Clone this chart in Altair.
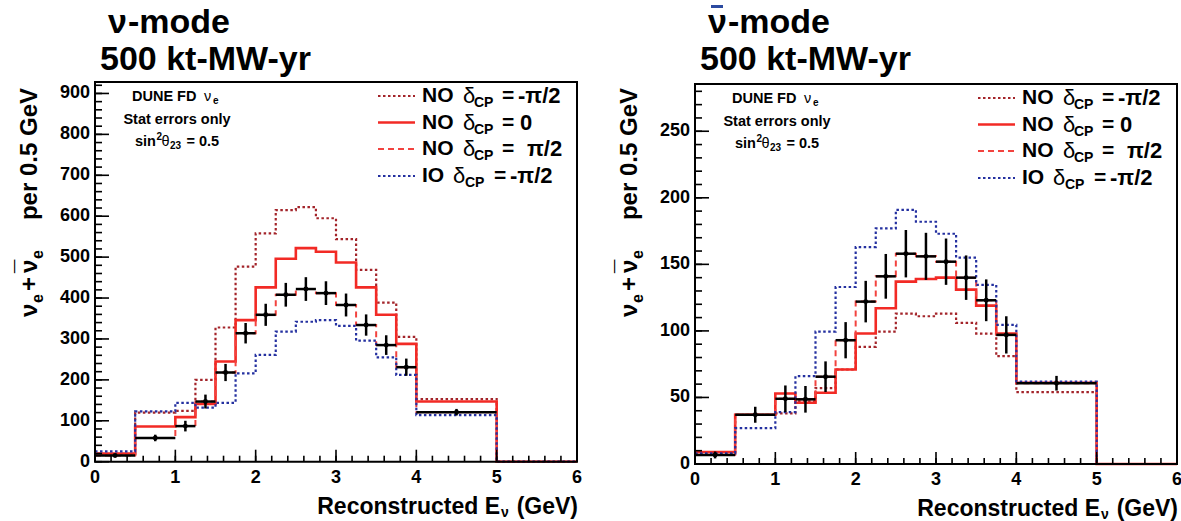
import altair as alt
import pandas as pd

# ---------------- data ----------------
edges = [0.0, 0.5, 1.0, 1.25, 1.5, 1.75, 2.0, 2.25, 2.5, 2.75, 3.0, 3.25, 3.5, 3.75, 4.0, 5.0, 6.0]
centers = [0.25, 0.75, 1.125, 1.375, 1.625, 1.875, 2.125, 2.375, 2.625, 2.875, 3.125, 3.375, 3.625, 3.875, 4.5]

# neutrino mode (per 0.5 GeV)
nu_no_m = [17, 120, 124, 200, 328, 477, 558, 615, 622, 595, 544, 469, 389, 305, 153]
nu_no_0 = [20, 86, 109, 141, 245, 346, 426, 496, 522, 513, 487, 426, 359, 288, 147]
nu_no_p = [15, 58, 87, 147, 218, 314, 359, 408, 422, 412, 383, 334, 285, 231, 121]
nu_io_m = [25, 123, 144, 132, 144, 216, 261, 318, 342, 346, 332, 296, 255, 212, 114]
nu_data = [15, 58, 87, 147, 218, 314, 359, 408, 422, 412, 383, 334, 285, 231, 121]
nu_err = [4, 8, 13, 17, 21, 25, 27, 29, 29, 29, 28, 26, 24, 21, 8]

# antineutrino mode (per 0.5 GeV)
an_no_m = [8, 37, 38, 47, 57, 71, 88, 99.5, 113, 111, 113, 106, 98, 81, 54]
an_no_0 = [9, 37, 53, 46, 53.5, 71, 98, 117, 137, 139, 140, 131, 119, 98, 61]
an_no_p = [7, 37, 49, 48.6, 65.6, 93, 122, 141, 158, 156, 152, 140, 123, 97, 60.7]
an_io_m = [8, 27, 39, 66, 99.5, 133, 163, 177, 191, 182, 173, 155, 134.6, 104.5, 62]
an_data = [6.8, 37, 49, 48.6, 65.6, 93, 122, 141, 158, 156, 152, 140, 123, 97, 60.7]
an_err = [2.6, 6, 10, 10, 11.5, 13.6, 15.6, 16.8, 17.8, 17.7, 17.4, 16.7, 15.7, 14, 5.5]

x_major = [0, 1, 2, 3, 4, 5, 6]
x_minor = [i / 5 for i in range(31)]
nu_y_major = [0, 100, 200, 300, 400, 500, 600, 700, 800, 900]
nu_y_minor = list(range(0, 921, 20))
an_y_major = [0, 50, 100, 150, 200, 250]
an_y_minor = list(range(0, 281, 10))

legend_labels = [("NO", "-π/2"), ("NO", "0"), ("NO", "π/2"), ("IO", "-π/2")]

# ---------------- styles ----------------
FONT = "Liberation Sans"
C_DRED = "#a3242a"
C_RED = "#f22a25"
C_RED2 = "#f2433f"
C_BLUE = "#2430a0"
STYLES = [
    dict(color=C_DRED, strokeDash=[2.5, 2.5], strokeWidth=2.2),
    dict(color=C_RED, strokeWidth=2.6),
    dict(color=C_RED2, strokeDash=[6, 4], strokeWidth=2.0),
    dict(color=C_BLUE, strokeDash=[2.5, 2.5], strokeWidth=2.2),
]

one = pd.DataFrame({"a": [0]})


def txt(s, x, y, size, align="left", baseline="middle", angle=0, color="black", weight="bold"):
    kw = dict(font=FONT, fontSize=size, fontWeight=weight, align=align, baseline=baseline, color=color)
    if angle:
        kw["angle"] = angle
    return alt.Chart(pd.DataFrame({"t": [s]})).mark_text(**kw).encode(
        x=alt.value(x), y=alt.value(y), text="t:N")


def panel(series, data, err, ymax, y_major, y_minor, x0, yr0, yr1, mode):
    xs = alt.Scale(domain=[0, 6], range=[x0, x0 + 482], nice=False, zero=False)
    ys = alt.Scale(domain=[0, ymax], range=[yr0, yr1], nice=False, zero=False)
    X = lambda f: alt.X(f, type="quantitative", scale=xs, axis=None)
    Y = lambda f: alt.Y(f, type="quantitative", scale=ys, axis=None)
    layers = []

    # histograms
    for vals, st in zip(series, STYLES):
        xs_pts = edges[:-2] + [5.0, 6.0]
        ys_pts = list(vals) + [0, 0]
        df = pd.DataFrame({"x": xs_pts, "y": ys_pts})
        layers.append(alt.Chart(df).mark_line(interpolate="step-after", **st).encode(x=X("x"), y=Y("y")))

    # data points
    lo = edges[:-2]
    hi = edges[1:-1]
    dd = pd.DataFrame({"c": centers, "v": data, "l": lo, "r": hi,
                       "e0": [v - e for v, e in zip(data, err)],
                       "e1": [v + e for v, e in zip(data, err)]})
    layers.append(alt.Chart(dd).mark_rule(color="black", strokeWidth=2.5).encode(x=X("l"), x2="r", y=Y("v")))
    layers.append(alt.Chart(dd).mark_rule(color="black", strokeWidth=2.5).encode(x=X("c"), y=Y("e0"), y2="e1"))
    layers.append(alt.Chart(dd).mark_point(filled=True, color="black", size=24, opacity=1).encode(x=X("c"), y=Y("v")))

    # frame
    fr = pd.DataFrame({"x0": [0], "x1": [6], "y0": [0], "y1": [ymax]})
    layers.append(alt.Chart(fr).mark_rect(fill="transparent", stroke="black", strokeWidth=2).encode(
        x=X("x0"), x2="x1", y=Y("y0"), y2="y1"))

    # ticks (inward)
    ybot = yr0
    xt = pd.DataFrame({"t": x_major})
    xm = pd.DataFrame({"t": x_minor})
    layers.append(alt.Chart(xt).mark_rule(color="black", strokeWidth=1.6).encode(
        x=X("t"), y=alt.value(ybot), y2=alt.value(ybot - 12)))
    layers.append(alt.Chart(xm).mark_rule(color="black", strokeWidth=1.6).encode(
        x=X("t"), y=alt.value(ybot), y2=alt.value(ybot - 6)))
    yt = pd.DataFrame({"t": y_major})
    ym = pd.DataFrame({"t": y_minor})
    layers.append(alt.Chart(yt).mark_rule(color="black", strokeWidth=1.6).encode(
        y=Y("t"), x=alt.value(x0), x2=alt.value(x0 + 14)))
    layers.append(alt.Chart(ym).mark_rule(color="black", strokeWidth=1.6).encode(
        y=Y("t"), x=alt.value(x0), x2=alt.value(x0 + 7)))

    # tick labels
    xl = pd.DataFrame({"t": x_major, "s": [str(v) for v in x_major]})
    layers.append(alt.Chart(xl).mark_text(font=FONT, fontSize=18, fontWeight="bold", baseline="middle").encode(
        x=X("t"), y=alt.value(ybot + 16), text="s:N"))
    yl = pd.DataFrame({"t": y_major, "s": [str(v) for v in y_major]})
    layers.append(alt.Chart(yl).mark_text(font=FONT, fontSize=18, fontWeight="bold", align="right",
                                          baseline="middle").encode(
        y=Y("t"), x=alt.value(x0 - 5), text="s:N"))

    # x axis title
    layers.append(txt("Reconstructed E", x0 + 405, ybot + 45, 23, align="right"))
    layers.append(txt("ν", x0 + 406, ybot + 51, 14))
    layers.append(txt("(GeV)", x0 + 483, ybot + 45, 23, align="right"))

    # y axis title (rotated, reads bottom to top)
    tx = x0 - 65
    layers.append(txt("ν", tx, 234, 24, align="left", angle=270))
    layers.append(txt("e", tx + 8, 220, 16, align="left", angle=270))
    layers.append(txt("+", tx, 208, 24, align="left", angle=270))
    layers.append(txt("ν", tx, 190, 24, align="left", angle=270))
    layers.append(txt("¯", tx - 5, 190, 24, align="left", angle=270))
    layers.append(txt("e", tx + 8, 176, 16, align="left", angle=270))
    layers.append(txt("per 0.5 GeV", tx, 5, 24, align="right", angle=270))

    # info box
    yo = yr1
    layers.append(txt("DUNE FD", x0 + 37, yo + 14.5, 14.5))
    layers.append(txt("ν", x0 + 109, yo + 14.5, 14.5, weight="normal"))
    layers.append(txt("e", x0 + 118, yo + 18.5, 10))
    layers.append(txt("Stat errors only", x0 + 82, yo + 37.5, 14.5, align="center"))
    layers.append(txt("sin", x0 + 40, yo + 59.5, 14.5))
    layers.append(txt("2", x0 + 61.5, yo + 54.5, 10))
    layers.append(txt("θ", x0 + 66.5, yo + 59.5, 14.5, weight="normal"))
    layers.append(txt("23", x0 + 75, yo + 63.5, 10))
    layers.append(txt("= 0.5", x0 + 91.5, yo + 59.5, 14.5))

    # legend
    rows = [14, 40.5, 67, 94]
    for (lab, val), st, ry in zip(legend_labels, STYLES, rows):
        ry = yo + ry
        rk = dict(st)
        layers.append(alt.Chart(one).mark_rule(**rk).encode(
            x=alt.value(x0 + 283), x2=alt.value(x0 + 320), y=alt.value(ry)))
        if lab == "NO":
            layers.append(txt("NO", x0 + 327, ry, 21))
            layers.append(txt("δ", x0 + 368, ry, 22, weight="normal"))
            layers.append(txt("CP", x0 + 379, ry + 7, 14))
            layers.append(txt("=", x0 + 407, ry, 21))
            vx = {"-π/2": 423, "0": 425, "π/2": 432}[val]
            layers.append(txt(val, x0 + vx, ry, 22))
        else:
            layers.append(txt("IO", x0 + 327, ry, 21))
            layers.append(txt("δ", x0 + 358, ry, 22, weight="normal"))
            layers.append(txt("CP", x0 + 370, ry + 7, 14))
            layers.append(txt("=", x0 + 399, ry, 21))
            layers.append(txt(val, x0 + 415, ry, 22))

    # big titles
    layers.append(txt("ν", x0 + 13, -50, 34, baseline="alphabetic"))
    layers.append(txt("-mode", x0 + 33, -50, 34, baseline="alphabetic"))
    layers.append(txt("500 kt-MW-yr", x0 + 5, -13, 34, baseline="alphabetic"))
    if mode == "anti":
        layers.append(alt.Chart(one).mark_rule(color="#2b4aa0", strokeWidth=3).encode(
            x=alt.value(x0 + 16), x2=alt.value(x0 + 28), y=alt.value(-76.5)))

    return alt.layer(*layers)


left = panel([nu_no_m, nu_no_0, nu_no_p, nu_io_m], nu_data, nu_err, 928, nu_y_major, nu_y_minor,
             0, 378.7, -1, "nu")
right = panel([an_no_m, an_no_0, an_no_p, an_io_m], an_data, an_err, 285.5, an_y_major, an_y_minor,
              600, 381, 1, "anti")

chart = alt.layer(left, right).resolve_scale(x="independent", y="independent").properties(
    width=1086, height=438,
    padding={"left": 95, "top": 83, "right": 0, "bottom": 0},
    autosize=alt.AutoSizeParams(type="none"),
    background="white",
).configure_view(strokeWidth=0)

chart.save("out.html", embed_options={"renderer": "svg", "actions": False})
